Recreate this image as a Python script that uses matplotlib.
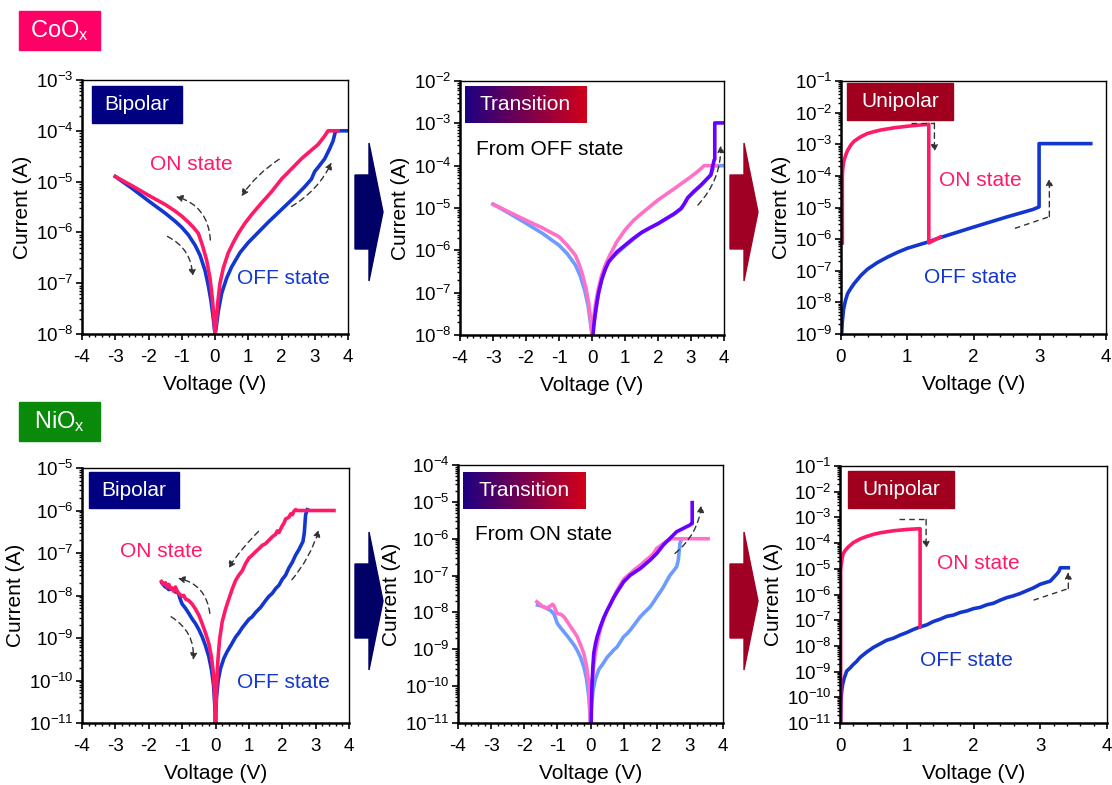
import numpy as np
import matplotlib
matplotlib.use("Agg")
import matplotlib.pyplot as plt
from matplotlib.patches import Rectangle, Polygon
from matplotlib.ticker import LogLocator, MultipleLocator, FuncFormatter, NullFormatter

plt.rcParams['font.family'] = ['Liberation Sans', 'DejaVu Sans']
plt.rcParams['mathtext.fontset'] = 'custom'
plt.rcParams['mathtext.rm'] = 'Liberation Sans'
plt.rcParams['mathtext.it'] = 'Liberation Sans'
plt.rcParams['axes.unicode_minus'] = False

W, H = 1112, 785

# colours
ON_C = '#FF1A66'
OFF_C = '#1436D0'
ON_L = '#FF70C8'
OFF_L = '#6E9BFF'
PURP = '#6A00FF'
NAVY = '#000080'
DRED = '#A0001E'

# ---------------- CoOx data (V, log10 I) ----------------
co_bi_on_v = [-3.0, -2.5, -2.0, -1.5, -1.2, -1.0, -0.8, -0.65, -0.5, -0.38, -0.25, -0.15, -0.08, -0.03, 0.0,
              0.03, 0.08, 0.15, 0.25, 0.4, 0.55, 0.7, 0.9, 1.1, 1.4, 1.7, 2.0, 2.3, 2.6, 2.9, 3.1, 3.3,
              3.4, 3.7]
co_bi_on_l = [-4.90, -5.08, -5.27, -5.45, -5.58, -5.68, -5.80, -5.90, -6.02, -6.25, -6.55, -6.90, -7.30,
              -7.70, -8.0, -7.80, -7.40, -7.00, -6.70, -6.40, -6.20, -6.02, -5.82, -5.65, -5.42, -5.20,
              -4.95, -4.75, -4.55, -4.38, -4.27, -4.10, -4.0, -4.0]
co_bi_off_v = [-3.0, -2.5, -2.0, -1.5, -1.2, -1.0, -0.8, -0.6, -0.45, -0.3, -0.2, -0.12, -0.05, 0.0,
               0.03, 0.1, 0.2, 0.35, 0.5, 0.75, 1.0, 1.3, 1.6, 2.0, 2.4, 2.7, 2.9, 3.0, 3.1, 3.3, 3.45,
               3.55, 3.62, 3.65, 4.0]
co_bi_off_l = [-4.90, -5.13, -5.38, -5.62, -5.78, -5.90, -6.05, -6.25, -6.45, -6.75, -7.05, -7.35, -7.70,
               -8.0, -7.90, -7.55, -7.20, -6.90, -6.68, -6.40, -6.20, -6.00, -5.80, -5.55, -5.30, -5.10,
               -4.95, -4.80, -4.72, -4.55, -4.35, -4.20, -4.02, -4.0, -4.0]

co_tr_on_v = [-3.0, -2.5, -2.0, -1.5, -1.0, -0.75, -0.5, -0.38, -0.28, -0.18, -0.1, -0.04, 0.0,
              0.04, 0.1, 0.18, 0.28, 0.4, 0.55, 0.75, 1.0, 1.25, 1.5, 2.0, 2.5, 3.0, 3.2, 3.4, 3.75]
co_tr_on_l = [-4.91, -5.10, -5.29, -5.47, -5.68, -5.88, -6.12, -6.35, -6.60, -6.90, -7.25, -7.65, -8.0,
              -7.65, -7.30, -6.95, -6.62, -6.35, -6.10, -5.80, -5.52, -5.30, -5.13, -4.81, -4.54, -4.26,
              -4.14, -4.0, -4.0]
co_tr_off_v = [-3.0, -2.5, -2.0, -1.5, -1.0, -0.75, -0.5, -0.35, -0.22, -0.12, -0.05, 0.0,
               0.03, 0.1, 0.2, 0.3, 0.5, 1.0, 1.5, 2.0, 2.5, 2.7, 2.9, 3.3, 3.6, 3.7, 4.0]
co_tr_off_l = [-4.91, -5.13, -5.36, -5.60, -5.88, -6.08, -6.35, -6.62, -6.95, -7.30, -7.70, -8.0,
               -7.8, -7.5, -7.0, -6.65, -6.25, -5.9, -5.58, -5.37, -5.14, -5.02, -4.76, -4.47, -4.22,
               -4.0, -4.0]
co_tr_new_v = [0.03, 0.06, 0.1, 0.15, 0.2, 0.3, 0.4, 0.5, 0.75, 1.0, 1.25, 1.5, 1.75, 2.0, 2.25, 2.5, 2.7,
               2.8, 2.9, 3.1, 3.3, 3.5, 3.6, 3.7, 3.72, 3.72, 4.0]
co_tr_new_l = [-8.0, -7.75, -7.49, -7.22, -7.0, -6.68, -6.45, -6.28, -6.04, -5.88, -5.72, -5.58, -5.47,
               -5.37, -5.25, -5.13, -5.01, -4.9, -4.76, -4.6, -4.46, -4.3, -4.22, -3.87, -3.85, -2.99, -2.99]

co_uni_on_v = [0.02, 0.02, 0.025, 0.04, 0.07, 0.1, 0.15, 0.2, 0.3, 0.4, 0.5, 0.6, 0.8, 1.0, 1.2, 1.325,
               1.325, 1.5]
co_uni_on_l = [-6.12, -4.03, -3.80, -3.55, -3.35, -3.19, -3.02, -2.90, -2.76, -2.66, -2.60, -2.55, -2.48,
               -2.43, -2.39, -2.37, -6.12, -5.93]
co_uni_off_v = [0.01, 0.02, 0.04, 0.07, 0.1, 0.15, 0.2, 0.3, 0.4, 0.55, 0.7, 0.85, 1.0, 1.3, 1.5, 2.0,
                2.5, 2.9, 2.99, 2.99, 3.77]
co_uni_off_l = [-9.0, -8.6, -8.2, -7.92, -7.72, -7.55, -7.40, -7.15, -6.95, -6.74, -6.57, -6.42, -6.29,
                -6.10, -5.95, -5.62, -5.30, -5.06, -4.98, -2.98, -2.98]

# ---------------- NiOx data (V, log10 I) ----------------
ni_bi_on_v = [-1.62, -1.55, -1.5, -1.45, -1.4, -1.35, -1.3, -1.25, -1.2, -1.15, -1.1, -1.0, -0.95, -0.9,
              -0.8, -0.7, -0.6, -0.5, -0.4, -0.3, -0.2, -0.12, -0.06, -0.02, 0.0, 0.03, 0.07, 0.12, 0.2,
              0.3, 0.4, 0.5, 0.6, 0.7, 0.8, 0.9, 1.0, 1.1, 1.2, 1.3, 1.4, 1.5, 1.6, 1.7, 1.8, 1.85, 1.9,
              2.0, 2.05, 2.1, 2.2, 2.25, 2.3, 2.35, 2.4, 2.45, 3.55]
ni_bi_on_l = [-7.67, -7.74, -7.70, -7.80, -7.74, -7.84, -7.82, -7.90, -7.80, -7.90, -7.95, -8.02, -8.00,
              -8.08, -8.12, -8.20, -8.32, -8.46, -8.66, -8.88, -9.13, -9.45, -9.85, -10.4, -11.0, -10.2,
              -9.55, -9.05, -8.62, -8.32, -8.08, -7.85, -7.65, -7.52, -7.42, -7.25, -7.12, -7.05, -6.97,
              -6.90, -6.82, -6.78, -6.70, -6.62, -6.56, -6.48, -6.52, -6.36, -6.30, -6.20, -6.16, -6.08,
              -6.10, -6.02, -5.98, -6.0, -6.0]
ni_bi_off_v = [-1.6, -1.55, -1.5, -1.45, -1.4, -1.3, -1.2, -1.15, -1.1, -1.05, -1.0, -0.9, -0.8, -0.7,
               -0.6, -0.5, -0.4, -0.3, -0.2, -0.12, -0.06, -0.02, 0.0, 0.03, 0.08, 0.15, 0.25, 0.35, 0.5,
               0.6, 0.7, 0.8, 0.9, 1.0, 1.1, 1.2, 1.35, 1.5, 1.6, 1.7, 1.8, 1.9, 2.0, 2.1, 2.2, 2.3, 2.4,
               2.5, 2.55, 2.62, 2.66, 2.7, 2.75]
ni_bi_off_l = [-7.71, -7.76, -7.80, -7.82, -7.86, -7.85, -7.92, -7.90, -7.98, -8.10, -8.20, -8.30, -8.42,
               -8.55, -8.66, -8.80, -8.97, -9.18, -9.44, -9.75, -10.1, -10.6, -11.0, -10.4, -10.0, -9.72,
               -9.48, -9.32, -9.12, -8.98, -8.88, -8.76, -8.66, -8.56, -8.50, -8.40, -8.28, -8.12, -8.02,
               -7.95, -7.84, -7.76, -7.62, -7.52, -7.35, -7.22, -7.05, -6.92, -6.84, -6.73, -6.53, -6.10,
               -5.98]

ni_tr_on_v = [-1.62, -1.55, -1.5, -1.45, -1.4, -1.35, -1.3, -1.25, -1.2, -1.15, -1.1, -1.05, -1.0, -0.9,
              -0.8, -0.7, -0.6, -0.5, -0.4, -0.3, -0.2, -0.12, -0.05, 0.0, 0.04, 0.08, 0.14, 0.2, 0.3,
              0.4, 0.5, 0.6, 0.7, 0.8, 0.9, 1.0, 1.1, 1.2, 1.35, 1.5, 1.65, 1.8, 1.9, 2.0, 2.1, 2.2, 2.3,
              2.4, 2.45, 3.55]
ni_tr_on_l = [-7.71, -7.76, -7.80, -7.84, -7.86, -7.88, -7.90, -7.84, -7.82, -7.78, -7.82, -7.95, -8.03,
              -8.05, -8.12, -8.25, -8.39, -8.52, -8.66, -8.88, -9.12, -9.45, -9.93, -11.0, -10.0, -9.55,
              -9.15, -8.85, -8.45, -8.17, -7.95, -7.76, -7.58, -7.40, -7.25, -7.10, -7.02, -6.94, -6.82,
              -6.72, -6.60, -6.49, -6.40, -6.26, -6.20, -6.13, -6.06, -6.02, -6.0, -6.0]
ni_tr_off_v = [-1.6, -1.5, -1.4, -1.3, -1.2, -1.1, -1.0, -0.9, -0.8, -0.7, -0.6, -0.5, -0.4, -0.3, -0.2,
               -0.12, -0.05, 0.0, 0.03, 0.08, 0.15, 0.25, 0.4, 0.5, 0.6, 0.7, 0.8, 0.9, 1.0, 1.1, 1.2,
               1.35, 1.5, 1.65, 1.8, 1.9, 2.0, 2.1, 2.2, 2.3, 2.4, 2.5, 2.6, 2.65, 2.7, 2.72]
ni_tr_off_l = [-7.80, -7.82, -7.85, -7.90, -7.95, -8.05, -8.30, -8.42, -8.53, -8.64, -8.76, -8.88, -9.03,
               -9.22, -9.48, -9.80, -10.3, -11.0, -10.5, -10.1, -9.80, -9.55, -9.36, -9.22, -9.12, -9.02,
               -8.94, -8.80, -8.66, -8.58, -8.48, -8.30, -8.12, -7.98, -7.85, -7.72, -7.58, -7.45, -7.31,
               -7.15, -6.99, -6.88, -6.76, -6.58, -6.13, -6.08]
ni_tr_new_v = [0.02, 0.04, 0.07, 0.1, 0.15, 0.2, 0.3, 0.4, 0.5, 0.6, 0.7, 0.8, 1.0, 1.2, 1.5, 1.8, 2.0,
               2.2, 2.4, 2.6, 2.8, 3.0, 3.05, 3.07, 3.07]
ni_tr_new_l = [-11.0, -10.1, -9.5, -9.1, -8.85, -8.66, -8.38, -8.14, -7.95, -7.78, -7.60, -7.45, -7.17,
               -6.99, -6.81, -6.58, -6.40, -6.17, -5.99, -5.81, -5.72, -5.63, -5.59, -5.59, -5.02]

ni_uni_on_v = [0.01, 0.01, 0.02, 0.035, 0.05, 0.08, 0.12, 0.2, 0.3, 0.4, 0.5, 0.6, 0.8, 1.0, 1.18, 1.2, 1.2]
ni_uni_on_l = [-11.0, -5.05, -4.79, -4.55, -4.40, -4.28, -4.16, -3.98, -3.84, -3.74, -3.66, -3.60, -3.52,
               -3.47, -3.44, -3.44, -7.26]
ni_uni_off_v = [0.01, 0.015, 0.025, 0.04, 0.06, 0.1, 0.15, 0.2, 0.25, 0.3, 0.4, 0.5, 0.6, 0.7, 0.8,
                0.9, 1.0, 1.1, 1.2, 1.3, 1.4, 1.5, 1.6, 1.7, 1.8, 1.9, 2.0, 2.1, 2.2, 2.3, 2.4, 2.5,
                2.6, 2.7, 2.8, 2.9, 3.0, 3.1, 3.15, 3.2, 3.25, 3.28, 3.3, 3.42]
ni_uni_off_l = [-11.0, -10.2, -9.75, -9.5, -9.28, -8.98, -8.86, -8.72, -8.60, -8.45, -8.24, -8.06, -7.92,
                -7.78, -7.70, -7.58, -7.48, -7.36, -7.26, -7.18, -7.05, -6.96, -6.85, -6.80, -6.70, -6.64,
                -6.55, -6.50, -6.40, -6.34, -6.22, -6.12, -6.05, -5.96, -5.85, -5.74, -5.60, -5.52,
                -5.48, -5.34, -5.20, -5.10, -4.96, -4.96]

fig = plt.figure(figsize=(W / 100, H / 100), dpi=100)


def px_axes(l, t, r, b):
    return fig.add_axes([l / W, 1 - b / H, (r - l) / W, (b - t) / H])


def fig_rect(l, t, r, b, color, text, size=15, sub=None):
    fig.add_artist(Rectangle((l / W, 1 - b / H), (r - l) / W, (b - t) / H,
                             transform=fig.transFigure, color=color, zorder=5))
    fig.text((l + r) / 2 / W, 1 - (t + b) / 2 / H, text, color='white', fontsize=size,
             ha='center', va='center', zorder=6)


def block_arrow(x0, yc, color):
    # body x0..x0+14, head to x0+28
    pts = [(x0, yc - 37), (x0 + 14, yc - 37), (x0 + 14, yc - 69), (x0 + 28, yc),
           (x0 + 14, yc + 69), (x0 + 14, yc + 37), (x0, yc + 37)]
    fig.add_artist(Polygon([(x / W, 1 - y / H) for x, y in pts], closed=True,
                           transform=fig.transFigure, color=color, zorder=1))


def style(ax, xlo, xhi, ylo, yhi, xminor):
    ax.set_yscale('log')
    ax.set_xlim(xlo, xhi)
    ax.set_ylim(10.0 ** ylo, 10.0 ** yhi)
    ax.xaxis.set_major_locator(MultipleLocator(1))
    ax.xaxis.set_minor_locator(MultipleLocator(xminor))
    ax.yaxis.set_major_locator(LogLocator(base=10, numticks=20))
    ax.yaxis.set_minor_locator(LogLocator(base=10, subs=np.arange(2, 10), numticks=20))
    ax.yaxis.set_minor_formatter(NullFormatter())
    ax.yaxis.set_major_formatter(FuncFormatter(lambda v, p: r'$\mathregular{10^{%d}}$' % int(round(np.log10(v)))))
    ax.tick_params(axis='both', which='both', direction='out', top=False, right=False)
    ax.tick_params(axis='both', which='major', length=4, width=1.2, labelsize=13.5)
    ax.tick_params(axis='both', which='minor', length=2.5, width=1.0)
    ax.tick_params(axis='y', pad=2)
    ax.tick_params(axis='x', pad=7)
    for s in ['left', 'bottom']:
        ax.spines[s].set_linewidth(1.8)
    for s in ['top', 'right']:
        ax.spines[s].set_linewidth(1.0)
    ax.set_xlabel('Voltage (V)', fontsize=15, labelpad=6)
    ax.set_ylabel('Current (A)', fontsize=15, labelpad=3)


def curve(ax, v, l, color, lw=2.6):
    ax.plot(v, 10.0 ** np.array(l), color=color, lw=lw, solid_joinstyle='round')


def dash_arrow(ax, x0, l0, x1, l1, rad=0.0):
    ax.annotate('', xy=(x1, 10 ** l1), xytext=(x0, 10 ** l0),
                arrowprops=dict(arrowstyle='-|>', color='#333333', lw=1.0, ls=(0, (4, 3)),
                                connectionstyle='arc3,rad=%g' % rad, shrinkA=0, shrinkB=0,
                                mutation_scale=10))


def elbow_arrow(ax, pts):
    xs = [p[0] for p in pts[:-1]]
    ys = [10 ** p[1] for p in pts[:-1]]
    ax.plot(xs, ys, color='#333333', lw=1.0, ls=(0, (4, 3)))
    dash_arrow(ax, pts[-2][0], pts[-2][1], pts[-1][0], pts[-1][1])


def ltext(ax, x, l, s, color, ha='center'):
    ax.text(x, 10 ** l, s, color=color, fontsize=15, ha=ha, va='center')


# ---------- header tags ----------
fig_rect(19, 11, 100, 50, '#FF0066', r'CoO$_\mathregular{x}$', size=17)
fig_rect(19, 402, 100, 441, '#0A8A0A', r'NiO$_\mathregular{x}$', size=17)

# ---------- block arrows ----------
block_arrow(355, 212, '#000066')
block_arrow(730, 212, '#A00024')
block_arrow(355, 601, '#000066')
block_arrow(730, 601, '#A00024')

# ---------- panel 1 ----------
ax1 = px_axes(82, 80, 348, 334)
style(ax1, -4, 4, -8, -3, 0.2)
curve(ax1, co_bi_off_v, co_bi_off_l, OFF_C)
curve(ax1, co_bi_on_v, co_bi_on_l, ON_C)
dash_arrow(ax1, 1.93, -4.56, 0.79, -5.29, 0.1)
dash_arrow(ax1, 2.30, -5.49, 3.51, -4.62, 0.15)
dash_arrow(ax1, -0.14, -6.15, -1.18, -5.29, 0.35)
dash_arrow(ax1, -1.43, -6.08, -0.68, -6.87, -0.3)
ltext(ax1, -0.7, -4.67, 'ON state', ON_C)
ltext(ax1, 2.05, -6.9, 'OFF state', OFF_C)

# ---------- panel 2 ----------
ax2 = px_axes(460, 81, 724, 335)
style(ax2, -4, 4, -8, -2, 0.2)
curve(ax2, co_tr_off_v, co_tr_off_l, OFF_L)
curve(ax2, co_tr_on_v, co_tr_on_l, ON_L)
curve(ax2, co_tr_new_v, co_tr_new_l, PURP)
dash_arrow(ax2, 3.21, -4.93, 3.90, -3.52, 0.2)
ltext(ax2, -3.52, -3.62, 'From OFF state', 'black', ha='left')

# ---------- panel 3 ----------
ax3 = px_axes(841, 81, 1106, 334)
style(ax3, 0, 4, -9, -1, 0.2)
curve(ax3, co_uni_off_v, co_uni_off_l, OFF_C)
curve(ax3, co_uni_on_v, co_uni_on_l, ON_C)
elbow_arrow(ax3, [(1.06, -2.33), (1.41, -2.33), (1.41, -3.24)])
elbow_arrow(ax3, [(2.625, -5.66), (3.145, -5.29), (3.145, -4.08)])
ltext(ax3, 2.11, -4.14, 'ON state', ON_C)
ltext(ax3, 1.96, -7.21, 'OFF state', OFF_C)

# ---------- panel 4 ----------
ax4 = px_axes(82, 468, 349, 723)
style(ax4, -4, 4, -11, -5, 0.2)
curve(ax4, ni_bi_off_v, ni_bi_off_l, OFF_C)
curve(ax4, ni_bi_on_v, ni_bi_on_l, ON_C)
dash_arrow(ax4, 1.29, -6.49, 0.38, -7.36, 0.05)
dash_arrow(ax4, 2.29, -7.63, 3.10, -6.45, 0.1)
dash_arrow(ax4, -0.17, -8.42, -1.13, -7.59, 0.35)
dash_arrow(ax4, -1.33, -8.5, -0.67, -9.52, -0.3)
ltext(ax4, -1.63, -6.97, 'ON state', ON_C)
ltext(ax4, 2.04, -10.05, 'OFF state', OFF_C)

# ---------- panel 5 ----------
ax5 = px_axes(458, 465, 723, 723)
style(ax5, -4, 4, -11, -4, 0.2)
curve(ax5, ni_tr_off_v, ni_tr_off_l, OFF_L)
curve(ax5, ni_tr_on_v, ni_tr_on_l, ON_L)
curve(ax5, ni_tr_new_v, ni_tr_new_l, PURP)
dash_arrow(ax5, 2.55, -6.4, 3.35, -5.09, 0.2)
ltext(ax5, -3.49, -5.88, 'From ON state', 'black', ha='left')

# ---------- panel 6 ----------
ax6 = px_axes(840, 466, 1107, 723)
style(ax6, 0, 4, -11, -1, 0.2)
curve(ax6, ni_uni_off_v, ni_uni_off_l, OFF_C)
curve(ax6, ni_uni_on_v, ni_uni_on_l, ON_C)
elbow_arrow(ax6, [(0.89, -3.08), (1.29, -3.08), (1.29, -4.21)])
elbow_arrow(ax6, [(2.9, -6.22), (3.42, -5.77), (3.42, -5.12)])
ltext(ax6, 2.07, -4.79, 'ON state', ON_C)
ltext(ax6, 1.89, -8.56, 'OFF state', OFF_C)

# ---------- inner tags ----------
fig_rect(92, 86, 182, 123, NAVY, 'Bipolar')
fig_rect(89, 472, 179, 508, NAVY, 'Bipolar')
fig_rect(847, 83, 953, 120, DRED, 'Unipolar')
fig_rect(848, 471, 954, 508, DRED, 'Unipolar')

grad = np.linspace(0, 1, 256).reshape(1, -1)
cmap = matplotlib.colors.LinearSegmentedColormap.from_list('tr', ['#1E0082', '#D2001A'])
for (l, t, r, b) in [(465, 86, 586, 123), (463, 472, 585, 509)]:
    gax = px_axes(l, t, r, b)
    gax.imshow(grad, aspect='auto', cmap=cmap)
    gax.set_axis_off()
    gax.text(0.5, 0.5, 'Transition', color='white', fontsize=15, ha='center', va='center',
             transform=gax.transAxes)

fig.savefig('out.png', dpi=100)
